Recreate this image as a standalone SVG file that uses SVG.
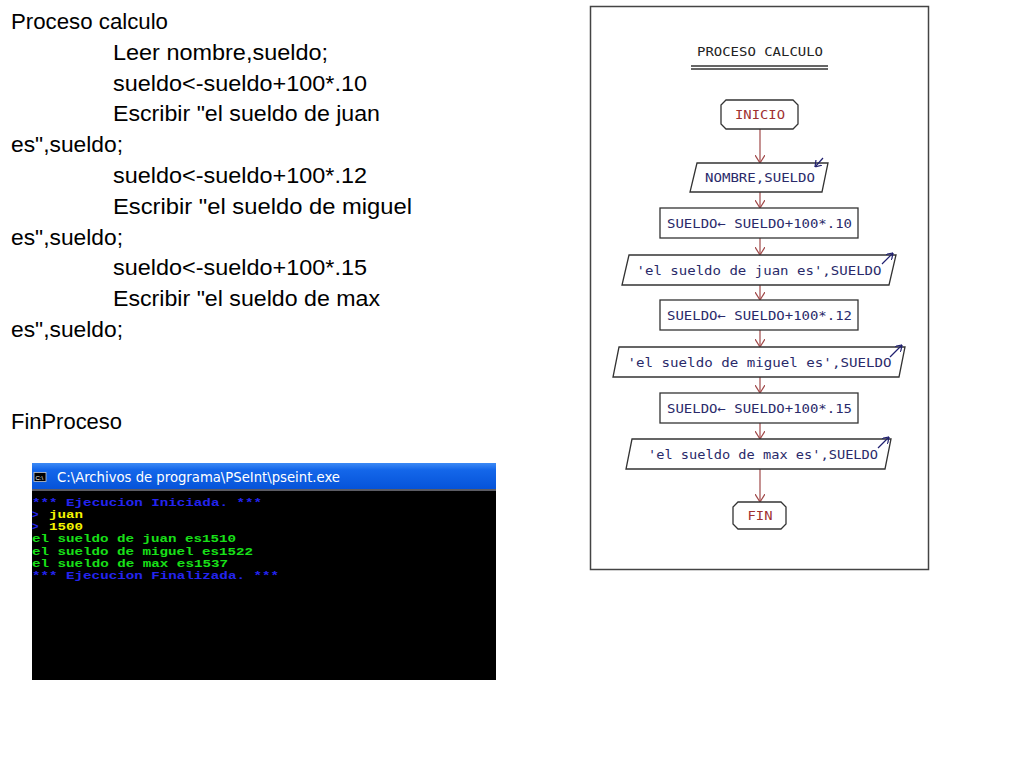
<svg xmlns="http://www.w3.org/2000/svg" width="1024" height="768" viewBox="0 0 1024 768">
<style>
.code{font-family:"Liberation Sans",Arial,sans-serif;font-size:22px;fill:#000}
.fc{font-family:"DejaVu Sans Mono","Liberation Mono",monospace;font-size:13px;fill:#2a2a6a;text-anchor:middle}
.term{font-family:"DejaVu Sans Mono","Liberation Mono",monospace;font-size:13px;fill:#a03030;text-anchor:middle}
.shape{fill:#fff;stroke:#333;stroke-width:1.3}
.flow{stroke:#a04848;stroke-width:1.2;fill:none}
.io{stroke:#202070;stroke-width:1.2;fill:none}
.con{font-family:"Liberation Mono","DejaVu Sans Mono",monospace;font-size:11px;font-weight:bold}
.blue{fill:#2424f0}.yel{fill:#f4f400}.grn{fill:#18e018}
</style>
<defs>
<marker id="ah" viewBox="0 0 8 10" refX="8" refY="5" markerWidth="8" markerHeight="10" markerUnits="userSpaceOnUse" orient="auto">
<path d="M0,0 L8,5 L0,10" fill="none" stroke="#a04848" stroke-width="1.2"/>
</marker>
<marker id="ioh" viewBox="0 0 6 8" refX="6" refY="4" markerWidth="6" markerHeight="8" markerUnits="userSpaceOnUse" orient="auto">
<path d="M0,0 L6,4 L0,8" fill="none" stroke="#202070" stroke-width="1.2"/>
</marker>
<linearGradient id="tb" x1="0" y1="0" x2="0" y2="1">
<stop offset="0" stop-color="#3d8af5"/>
<stop offset="0.25" stop-color="#1467ea"/>
<stop offset="1" stop-color="#0552d8"/>
</linearGradient>
</defs>
<rect width="1024" height="768" fill="#fff"/>

<g id="pseudocode">
<text class="code" x="11" y="29" textLength="157" lengthAdjust="spacingAndGlyphs">Proceso calculo</text>
<text class="code" x="113" y="59.8" textLength="215" lengthAdjust="spacingAndGlyphs">Leer nombre,sueldo;</text>
<text class="code" x="113" y="90.6" textLength="254" lengthAdjust="spacingAndGlyphs">sueldo&lt;-sueldo+100*.10</text>
<text class="code" x="113" y="121.4" textLength="267" lengthAdjust="spacingAndGlyphs">Escribir "el sueldo de juan</text>
<text class="code" x="11" y="152.2" textLength="112" lengthAdjust="spacingAndGlyphs">es",sueldo;</text>
<text class="code" x="113" y="183" textLength="254" lengthAdjust="spacingAndGlyphs">sueldo&lt;-sueldo+100*.12</text>
<text class="code" x="113" y="213.8" textLength="299" lengthAdjust="spacingAndGlyphs">Escribir "el sueldo de miguel</text>
<text class="code" x="11" y="244.6" textLength="112" lengthAdjust="spacingAndGlyphs">es",sueldo;</text>
<text class="code" x="113" y="275.4" textLength="254" lengthAdjust="spacingAndGlyphs">sueldo&lt;-sueldo+100*.15</text>
<text class="code" x="113" y="306.2" textLength="267" lengthAdjust="spacingAndGlyphs">Escribir "el sueldo de max</text>
<text class="code" x="11" y="337" textLength="112" lengthAdjust="spacingAndGlyphs">es",sueldo;</text>
<text class="code" x="11" y="429.4" textLength="111" lengthAdjust="spacingAndGlyphs">FinProceso</text>
</g>

<g id="console">
<rect x="32" y="463" width="464" height="27" fill="url(#tb)"/>
<rect x="32" y="489" width="464" height="191" fill="#000"/>
<line x1="32" y1="490" x2="496" y2="490" stroke="#b8b8c8" stroke-width="1.2"/>
<rect x="34" y="472.5" width="12" height="9" fill="#000" stroke="#c8c8c8" stroke-width="0.8"/>
<text x="35.5" y="479.8" font-family="Liberation Sans,sans-serif" font-size="6" fill="#fff">C:\</text>
<text x="57" y="482" font-family="&quot;DejaVu Sans&quot;,&quot;Liberation Sans&quot;,sans-serif" font-size="14" fill="#fff" textLength="283" lengthAdjust="spacingAndGlyphs">C:\Archivos de programa\PSeInt\pseint.exe</text>
<text class="con blue" x="32" y="505.5" textLength="230" lengthAdjust="spacingAndGlyphs">*** Ejecucion Iniciada. ***</text>
<text class="con blue" x="32" y="517.8">&gt;</text>
<text class="con yel" x="49" y="517.8" textLength="34" lengthAdjust="spacingAndGlyphs">juan</text>
<text class="con blue" x="32" y="530.1">&gt;</text>
<text class="con yel" x="49" y="530.1" textLength="34" lengthAdjust="spacingAndGlyphs">1500</text>
<text class="con grn" x="32" y="542.4" textLength="204" lengthAdjust="spacingAndGlyphs">el sueldo de juan es1510</text>
<text class="con grn" x="32" y="554.7" textLength="221" lengthAdjust="spacingAndGlyphs">el sueldo de miguel es1522</text>
<text class="con grn" x="32" y="567" textLength="196" lengthAdjust="spacingAndGlyphs">el sueldo de max es1537</text>
<text class="con blue" x="32" y="579.3" textLength="247" lengthAdjust="spacingAndGlyphs">*** Ejecucion Finalizada. ***</text>
</g>

<g id="flowchart-frame">
<rect x="590.5" y="6.5" width="338" height="563" fill="#fff" stroke="#444" stroke-width="1.5"/>
<text x="760" y="56" font-family="&quot;DejaVu Sans Mono&quot;,monospace" font-size="12" fill="#222" text-anchor="middle" textLength="126" lengthAdjust="spacingAndGlyphs">PROCESO CALCULO</text>
<line x1="691" y1="66" x2="828" y2="66" stroke="#333" stroke-width="1.3"/>
<line x1="691" y1="69" x2="828" y2="69" stroke="#333" stroke-width="1.3"/>
</g>

<g id="connectors">
<line class="flow" x1="760" y1="129" x2="760" y2="163" marker-end="url(#ah)"/>
<line class="flow" x1="760" y1="192" x2="760" y2="208" marker-end="url(#ah)"/>
<line class="flow" x1="760" y1="238" x2="760" y2="255" marker-end="url(#ah)"/>
<line class="flow" x1="760" y1="285" x2="760" y2="300" marker-end="url(#ah)"/>
<line class="flow" x1="760" y1="330" x2="760" y2="347" marker-end="url(#ah)"/>
<line class="flow" x1="760" y1="377" x2="760" y2="393" marker-end="url(#ah)"/>
<line class="flow" x1="760" y1="423" x2="760" y2="439" marker-end="url(#ah)"/>
<line class="flow" x1="760" y1="469" x2="760" y2="502" marker-end="url(#ah)"/>
</g>

<g id="inicio">
<path class="shape" d="M726,100 H793 L798,105 V124 L793,129 H726 L721,124 V105 Z"/>
<text class="term" x="760" y="118.5" textLength="50" lengthAdjust="spacingAndGlyphs">INICIO</text>
</g>

<g id="leer">
<path class="shape" d="M697,163 H828 L822,192 H690 Z"/>
<text class="fc" x="760" y="181.5" textLength="110" lengthAdjust="spacingAndGlyphs">NOMBRE,SUELDO</text>
<line class="io" x1="823" y1="158" x2="815" y2="167" marker-end="url(#ioh)"/>
</g>

<g id="asig1">
<rect class="shape" x="660" y="208" width="198" height="30"/>
<text class="fc" x="759.5" y="227.5" textLength="185" lengthAdjust="spacingAndGlyphs">SUELDO← SUELDO+100*.10</text>
</g>

<g id="escribir1">
<path class="shape" d="M629,255 H896 L889,285 H622 Z"/>
<text class="fc" x="759" y="274.5" textLength="245" lengthAdjust="spacingAndGlyphs">'el sueldo de juan es',SUELDO</text>
<line class="io" x1="882" y1="264" x2="893" y2="253" marker-end="url(#ioh)"/>
</g>

<g id="asig2">
<rect class="shape" x="660" y="300" width="198" height="30"/>
<text class="fc" x="759.5" y="319.5" textLength="185" lengthAdjust="spacingAndGlyphs">SUELDO← SUELDO+100*.12</text>
</g>

<g id="escribir2">
<path class="shape" d="M619,347 H905 L899,377 H613 Z"/>
<text class="fc" x="759.5" y="366.5" textLength="264" lengthAdjust="spacingAndGlyphs">'el sueldo de miguel es',SUELDO</text>
<line class="io" x1="890" y1="357" x2="902" y2="345" marker-end="url(#ioh)"/>
</g>

<g id="asig3">
<rect class="shape" x="660" y="393" width="198" height="30"/>
<text class="fc" x="759.5" y="412.5" textLength="185" lengthAdjust="spacingAndGlyphs">SUELDO← SUELDO+100*.15</text>
</g>

<g id="escribir3">
<path class="shape" d="M632,439 H891 L885,469 H626 Z"/>
<text class="fc" x="763" y="458.5" textLength="230" lengthAdjust="spacingAndGlyphs">'el sueldo de max es',SUELDO</text>
<line class="io" x1="878" y1="448" x2="889" y2="437" marker-end="url(#ioh)"/>
</g>

<g id="fin">
<path class="shape" d="M738,502 H781 L786,507 V524 L781,529 H738 L733,524 V507 Z"/>
<text class="term" x="760" y="520" textLength="25" lengthAdjust="spacingAndGlyphs">FIN</text>
</g>
</svg>
